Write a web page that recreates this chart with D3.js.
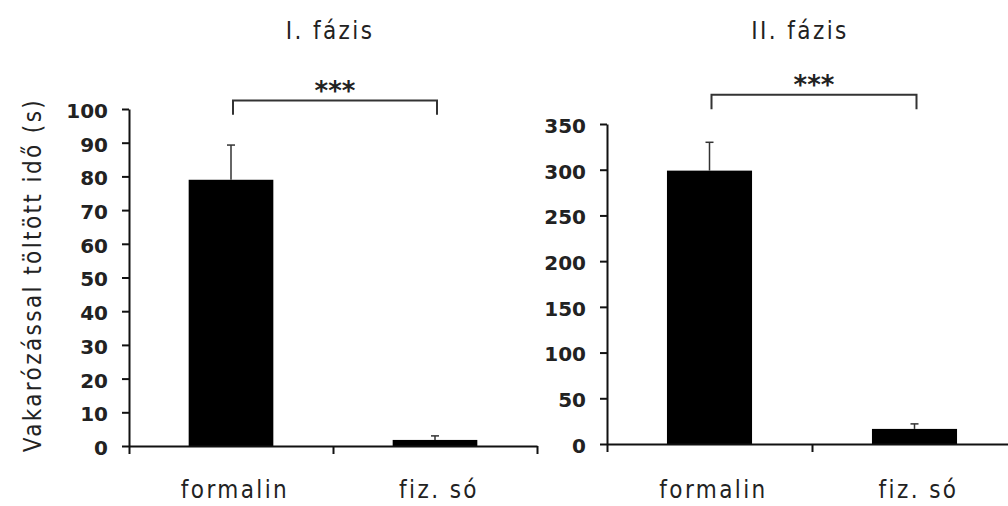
<!DOCTYPE html>
<html>
<head>
<meta charset="utf-8">
<script src="https://cdn.jsdelivr.net/npm/d3@7"></script>
<style>
  body { margin: 0; background: #fff; }
  .tickLbl text { font-family: "DejaVu Sans"; font-weight: bold; font-size: 20px; fill: #222; }
  .lbl { font-family: "DejaVu Sans Condensed", "DejaVu Sans"; font-size: 24px; fill: #222; letter-spacing: 2.4px; }
</style>
</head>
<body>
<svg id="mainSvg" width="1008" height="506"></svg>
<script>
// chart data
var categories = ["formalin", "fiz. só"];
var panelTitles = ["I. fázis", "II. fázis"];
var meanValues = [[79, 1.8], [299, 16.5]];
var errorValues = [[10.3, 1.2], [31, 5.5]];
var yMax = [100, 350];
var yStep = [10, 50];
var sigText = ["***", "***"];
var sigTop = [102.5, 382];
var sigLeg = [98.3, 366];

// panel placement
var panels = [
  {x0: 129, x1: 537, yTop: 109, yBottom: 446, titleX: 330},
  {x0: 607, x1: 1017, yTop: 124, yBottom: 444, titleX: 800}
];

var svg = d3.select("#mainSvg");

// y axis title
svg.append("text")
  .attr("class", "lbl")
  .attr("transform", "translate(41,275) rotate(-90)")
  .style("text-anchor", "middle")
  .text("Vakarózással töltött idő (s)");

panels.forEach(function(p, k){

  var x = d3.scaleBand()
    .domain(categories)
    .range([p.x0, p.x1]);
  var xEdge = d3.scaleLinear().domain([0, categories.length]).range([p.x0, p.x1]);
  var y = d3.scaleLinear().domain([0, yMax[k]]).range([p.yBottom, p.yTop]);
  var barW = x.bandwidth() * 0.415;

  var g = svg.append("g").attr("class", "panel" + k);

  // title
  g.append("text")
    .attr("class", "lbl")
    .attr("x", p.titleX)
    .attr("y", 39)
    .style("text-anchor", "middle")
    .text(panelTitles[k]);

  // bars
  g.selectAll(".bar")
    .data(categories)
    .enter()
    .append("rect")
    .attr("class", "bar")
    .attr("x", function(d){ return x(d) + x.bandwidth()/2 - barW/2; })
    .attr("width", barW)
    .attr("y", function(d, i){ return y(meanValues[k][i]); })
    .attr("height", function(d, i){ return p.yBottom - y(meanValues[k][i]); })
    .attr("fill", "#000");

  // error bars (upper only)
  g.selectAll(".err")
    .data(categories)
    .enter()
    .append("line")
    .attr("x1", function(d){ return x(d) + x.bandwidth()/2; })
    .attr("x2", function(d){ return x(d) + x.bandwidth()/2; })
    .attr("y1", function(d, i){ return y(meanValues[k][i]); })
    .attr("y2", function(d, i){ return y(meanValues[k][i] + errorValues[k][i]); })
    .attr("stroke", "#333")
    .attr("stroke-width", 1.5);
  g.selectAll(".cap")
    .data(categories)
    .enter()
    .append("line")
    .attr("x1", function(d){ return x(d) + x.bandwidth()/2 - 4; })
    .attr("x2", function(d){ return x(d) + x.bandwidth()/2 + 4; })
    .attr("y1", function(d, i){ return y(meanValues[k][i] + errorValues[k][i]); })
    .attr("y2", function(d, i){ return y(meanValues[k][i] + errorValues[k][i]); })
    .attr("stroke", "#333")
    .attr("stroke-width", 1.5);

  // y axis
  var yAxis = d3.axisLeft(y)
    .tickValues(d3.range(0, yMax[k] + 1, yStep[k]))
    .tickSize(7)
    .tickSizeOuter(0)
    .tickPadding(14);
  var ya = g.append("g")
    .attr("class", "tickLbl")
    .attr("transform", "translate(" + p.x0 + ",0)")
    .call(yAxis);
  ya.selectAll("line").attr("stroke", "#111").attr("stroke-width", 2);
  ya.select(".domain").attr("stroke", "#111").attr("stroke-width", 2);
  ya.selectAll("text").attr("dy", "0.42em");

  // x axis with ticks between categories
  var xAxis = d3.axisBottom(xEdge)
    .tickValues(d3.range(0, categories.length + 1))
    .tickFormat("")
    .tickSize(8)
    .tickSizeOuter(0);
  var xa = g.append("g")
    .attr("transform", "translate(0," + p.yBottom + ")")
    .call(xAxis);
  xa.selectAll("line").attr("stroke", "#111").attr("stroke-width", 2);
  xa.select(".domain").attr("stroke", "#111").attr("stroke-width", 2);

  // category labels
  g.selectAll(".catLbl")
    .data(categories)
    .enter()
    .append("text")
    .attr("class", "lbl")
    .attr("x", function(d){ return x(d) + x.bandwidth()/2 + 4; })
    .attr("y", 498)
    .style("text-anchor", "middle")
    .text(function(d){ return d; });

  // significance bracket
  var cx0 = x(categories[0]) + x.bandwidth()/2 + 2;
  var cx1 = x(categories[1]) + x.bandwidth()/2 + 2;
  g.append("path")
    .attr("d", "M" + cx0 + "," + y(sigLeg[k]) + "V" + y(sigTop[k]) + "H" + cx1 + "V" + y(sigLeg[k]))
    .attr("fill", "none")
    .attr("stroke", "#333")
    .attr("stroke-width", 2);
  g.append("text")
    .attr("x", (cx0 + cx1)/2)
    .attr("y", y(sigTop[k]) - 1)
    .style("text-anchor", "middle")
    .style("font-family", "DejaVu Sans")
    .style("font-weight", "bold")
    .style("font-size", "26px")
    .attr("fill", "#222")
    .text(sigText[k]);
});
</script>
</body>
</html>
